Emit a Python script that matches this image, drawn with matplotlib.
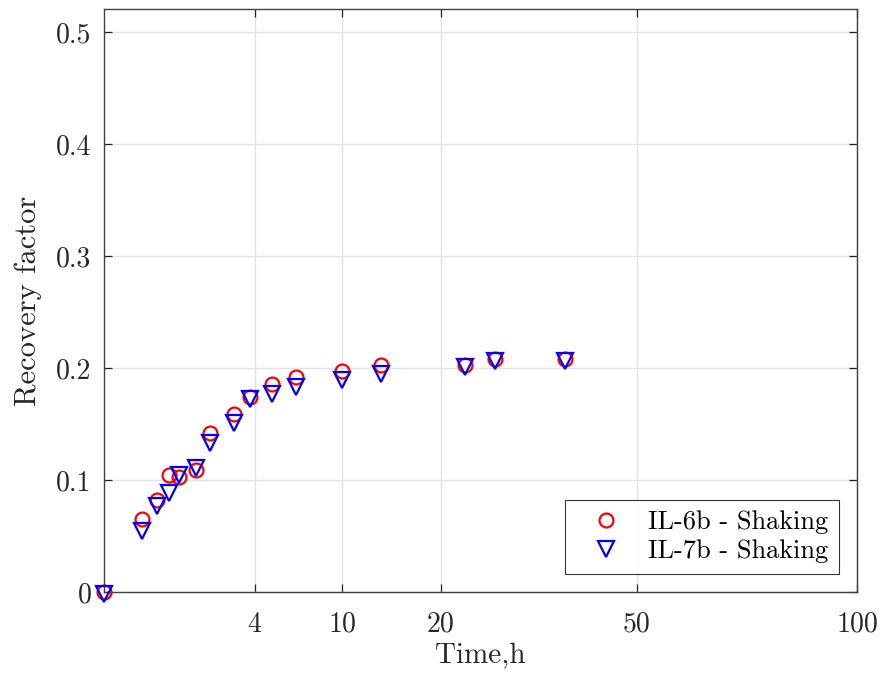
import numpy as np
import matplotlib
matplotlib.use("Agg")
import matplotlib.pyplot as plt

# --- data ---
time_h = [0, 0.25, 0.5, 0.75, 1.0, 1.5, 2.0, 3.0, 3.75, 5.0, 6.5, 10.0, 13.5, 23.0, 27.0, 37.5]
rf_il6b = [0.0, 0.065, 0.082, 0.104, 0.103, 0.109, 0.142, 0.159, 0.174, 0.186, 0.192,
           0.197, 0.203, 0.203, 0.208, 0.208]
rf_il7b = [-0.002, 0.054, 0.077, 0.088, 0.104, 0.111, 0.133, 0.151, 0.172, 0.177, 0.183,
           0.189, 0.195, 0.201, 0.206, 0.206]
x_ticks = [4, 10, 20, 50, 100]
y_ticks = [0, 0.1, 0.2, 0.3, 0.4, 0.5]
y_tick_labels = ["0", "0.1", "0.2", "0.3", "0.4", "0.5"]

plt.rcParams["font.family"] = "serif"
plt.rcParams["font.serif"] = ["cmr10"]
plt.rcParams["mathtext.fontset"] = "cm"
plt.rcParams["axes.formatter.use_mathtext"] = True


# x axis is square-root spaced
def sqrt_fwd(x):
    return np.sqrt(np.clip(x, 0, None))


def sqrt_inv(x):
    return np.square(x)


fig = plt.figure(figsize=(8.81, 6.75), dpi=100)
ax = fig.add_axes([0.118, 0.123, 0.855, 0.863])

ax.set_xscale("function", functions=(sqrt_fwd, sqrt_inv))

ax.plot(time_h, rf_il6b, linestyle="none", marker="o", markersize=10,
        markerfacecolor="none", markeredgecolor="#ff0000", markeredgewidth=1.6,
        label="IL-6b - Shaking", zorder=3, clip_on=False)
ax.plot(time_h, rf_il7b, linestyle="none", marker="v", markersize=12,
        markerfacecolor="none", markeredgecolor="#0000ff", markeredgewidth=1.6,
        label="IL-7b - Shaking", zorder=4, clip_on=False)

ax.set_xlim(0, 100)
ax.set_ylim(0, 0.52)
ax.set_xticks(x_ticks)
ax.set_xticklabels([str(t) for t in x_ticks])
ax.set_yticks(y_ticks)
ax.set_yticklabels(y_tick_labels)
ax.minorticks_off()

ax.grid(True, color="#e3e3e3", linewidth=1.0)
ax.set_axisbelow(True)
ax.tick_params(direction="in", top=True, right=True, length=6, width=0.9,
               labelsize=20, colors="#262626")
ax.tick_params(axis="x", pad=14)
ax.tick_params(axis="y", pad=9)
for sp in ax.spines.values():
    sp.set_color("#404040")
    sp.set_linewidth(1.0)

ax.set_xlabel("Time,h", fontsize=21, color="#262626", labelpad=4)
ax.set_ylabel("Recovery factor", fontsize=22, color="#262626", labelpad=10)

leg = ax.legend(loc="lower right", fontsize=19, frameon=True, fancybox=False,
                edgecolor="black", borderaxespad=0.7, handlelength=2.3,
                handletextpad=0.45, borderpad=0.4, labelspacing=0.2)
leg.get_frame().set_linewidth(0.8)

fig.savefig("out.png", dpi=100)
